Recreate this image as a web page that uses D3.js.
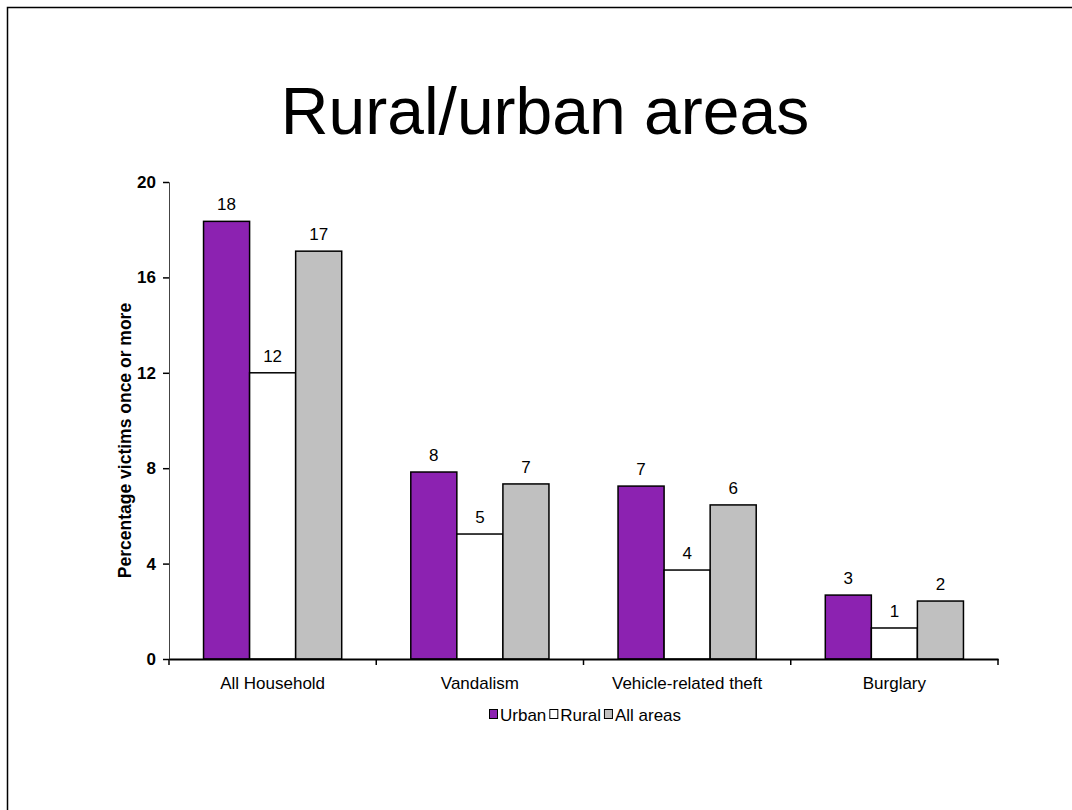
<!DOCTYPE html>
<html><head><meta charset="utf-8">
<script src="https://cdn.jsdelivr.net/npm/d3@7"></script>
<style>html,body{margin:0;padding:0;background:#fff;}svg{display:block;}</style>
</head><body>
<svg id="c" width="1072" height="810"></svg>
<script>
const categories = ["All Household", "Vandalism", "Vehicle-related theft", "Burglary"];
const seriesNames = ["Urban", "Rural", "All areas"];
const urban = [18.35, 7.84, 7.25, 2.68];
const rural = [12.0, 5.24, 3.73, 1.3];
const allAreas = [17.1, 7.34, 6.46, 2.43];
const urbanLabels = ["18", "8", "7", "3"];
const ruralLabels = ["12", "5", "4", "1"];
const allLabels = ["17", "7", "6", "2"];
const yTicks = [0, 4, 8, 12, 16, 20];
const colors = ["#8c22b1", "#ffffff", "#c0c0c0"];

(function () {
const svg = d3.select("#c");
const font = "Arial, 'Liberation Sans', sans-serif";

svg.append("path").attr("d", "M7.5,810 L7.5,7.5 L1072,7.5").attr("fill", "none").attr("stroke", "#000").attr("stroke-width", 1.5);

svg.append("text").attr("x", 545).attr("y", 134).attr("text-anchor", "middle")
  .attr("font-family", font).attr("font-size", 66).attr("fill", "#000").text("Rural/urban areas");

const pLeft = 169, pRight = 998, pTop = 182, pBottom = 659;
const x0 = d3.scaleBand().domain(categories).range([pLeft, pRight]).paddingInner(0).paddingOuter(0);
const x1 = d3.scaleBand().domain(seriesNames).range([0, x0.bandwidth()]).paddingInner(0).paddingOuter(0.75);
const y = d3.scaleLinear().domain([0, 20]).range([pBottom, pTop]);

const series = [urban, rural, allAreas];
const labels = [urbanLabels, ruralLabels, allLabels];

const g = svg.append("g");
series.forEach((vals, si) => {
  g.selectAll(null).data(categories).enter().append("rect")
    .attr("x", c => x0(c) + x1(seriesNames[si]))
    .attr("y", (c, i) => y(vals[i]))
    .attr("width", x1.bandwidth())
    .attr("height", (c, i) => y(0) - y(vals[i]))
    .attr("fill", colors[si]).attr("stroke", "#000").attr("stroke-width", 1.5);
});
series.forEach((vals, si) => {
  g.selectAll(null).data(categories).enter().append("text")
    .attr("x", c => x0(c) + x1(seriesNames[si]) + x1.bandwidth() / 2)
    .attr("y", (c, i) => y(vals[i]) - 11)
    .attr("text-anchor", "middle").attr("font-family", font).attr("font-size", 17).attr("fill", "#000")
    .text((c, i) => labels[si][i]);
});

const yAxis = d3.axisLeft(y).tickValues(yTicks).tickSize(6).tickPadding(7);
const ya = svg.append("g").attr("transform", `translate(${pLeft},0)`).call(yAxis);
ya.select(".domain").attr("stroke", "#444").attr("stroke-width", 1);
ya.selectAll(".tick line").attr("stroke", "#000").attr("stroke-width", 1.5);
ya.selectAll("text").attr("font-family", font).attr("font-size", 17).attr("font-weight", "bold").attr("fill", "#000");

const xAxis = d3.axisBottom(x0).tickSizeInner(0).tickSizeOuter(0).tickPadding(18);
const xa = svg.append("g").attr("transform", `translate(0,${pBottom})`).call(xAxis);
xa.select(".domain").attr("stroke", "#000").attr("stroke-width", 2);
xa.selectAll("text").attr("font-family", font).attr("font-size", 17).attr("fill", "#000");
const boundaries = categories.map(c => x0(c)).concat([x0.range()[1]]);
xa.selectAll(".bnd").data(boundaries).enter().append("line")
  .attr("x1", d => d).attr("x2", d => d).attr("y1", 0).attr("y2", 6)
  .attr("stroke", "#000").attr("stroke-width", 1.5);

svg.append("text").attr("transform", `translate(131,${(pTop + pBottom) / 2 + 20}) rotate(-90)`)
  .attr("text-anchor", "middle").attr("font-family", font).attr("font-size", 17.5).attr("font-weight", "bold")
  .attr("fill", "#000").text("Percentage victims once or more");

const legend = svg.append("g").attr("transform", "translate(489,715)");
let lx = 0;
seriesNames.forEach((n, i) => {
  legend.append("rect").attr("x", lx + 0.5).attr("y", -5.5).attr("width", 8).attr("height", 9)
    .attr("fill", colors[i]).attr("stroke", "#000").attr("stroke-width", 1);
  const t = legend.append("text").attr("x", lx + 11).attr("y", 6).attr("font-family", font)
    .attr("font-size", 17).attr("fill", "#000").text(n);
  lx += 11 + t.node().getComputedTextLength() + 3;
});
})();
</script>
</body></html>
